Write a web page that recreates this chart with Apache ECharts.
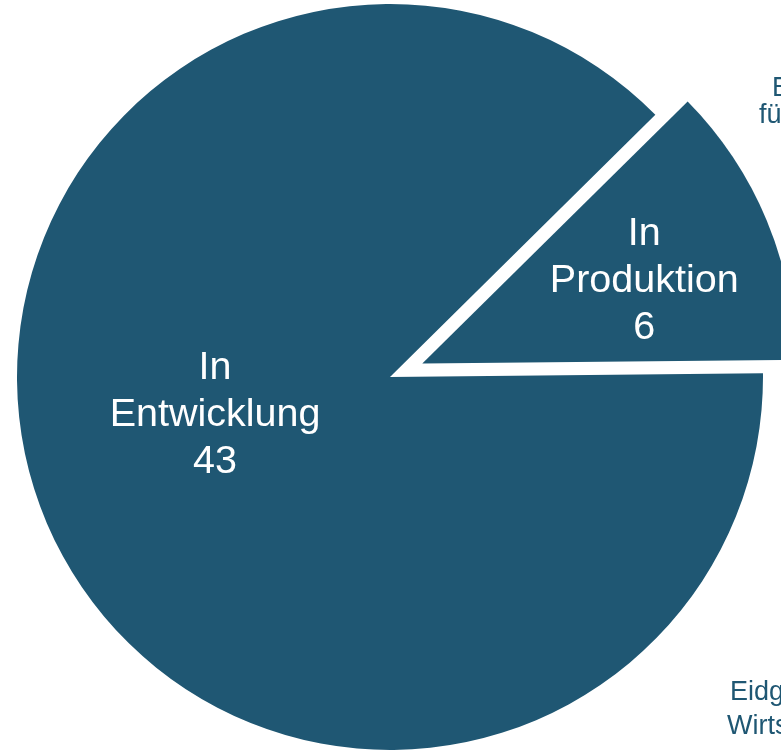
<!DOCTYPE html>
<html>
<head>
<meta charset="utf-8">
<script src="https://cdn.jsdelivr.net/npm/echarts@6/dist/echarts.min.js"></script>
<style>
html,body{margin:0;padding:0;background:#fff;}
#chart{width:781px;height:752px;}
</style>
</head>
<body>
<div id="chart"></div>
<script>
// Data
var categories = ['In Entwicklung', 'In Produktion'];
var values = [43, 6];
var selectedCategory = 'In Produktion';
var sideLabelsTop = ['Eidg.', 'für'];
var sideLabelsBottom = ['Eidgenössisches', 'Wirtschafts-'];

var COLOR = '#1f5773';
var FONT = '"Liberation Sans", Arial, sans-serif';

var chart = echarts.init(document.getElementById('chart'), null, {renderer: 'canvas'});

var pieData = categories.map(function (c, i) {
  return { name: c, value: values[i], selected: c === selectedCategory };
});

// label nudges (layout only)
var labelShift = [[0, -35], [47, -10]];

chart.setOption({
  animation: false,
  backgroundColor: '#ffffff',
  series: [{
    type: 'pie',
    center: [390, 377],
    radius: [0, 373],
    startAngle: 0.57,
    clockwise: true,
    selectedMode: 'multiple',
    selectedOffset: 35,
    avoidLabelOverlap: false,
    itemStyle: { color: COLOR, borderWidth: 0 },
    label: {
      show: true,
      position: 'inside',
      color: '#ffffff',
      fontFamily: FONT,
      fontSize: 39.5,
      lineHeight: 47,
      align: 'center',
      formatter: function (p) {
        return p.name.replace(' ', '\n') + '\n' + p.value;
      }
    },
    labelLine: { show: false },
    labelLayout: function (params) {
      var s = labelShift[params.dataIndex];
      return { dx: s[0], dy: s[1] };
    },
    emphasis: { disabled: true },
    select: { itemStyle: { color: COLOR } },
    data: pieData
  }],
  graphic: [
    { type: 'text', x: 772, y: 89, silent: true,
      style: { text: sideLabelsTop[0], fill: COLOR, font: '27px ' + FONT, verticalAlign: 'middle', align: 'left' } },
    { type: 'text', x: 759, y: 116, silent: true,
      style: { text: sideLabelsTop[1], fill: COLOR, font: '27px ' + FONT, verticalAlign: 'middle', align: 'left' } },
    { type: 'text', x: 730, y: 693, silent: true,
      style: { text: sideLabelsBottom[0], fill: COLOR, font: '27px ' + FONT, verticalAlign: 'middle', align: 'left' } },
    { type: 'text', x: 727, y: 727, silent: true,
      style: { text: sideLabelsBottom[1], fill: COLOR, font: '27px ' + FONT, verticalAlign: 'middle', align: 'left' } }
  ]
});
</script>
</body>
</html>
